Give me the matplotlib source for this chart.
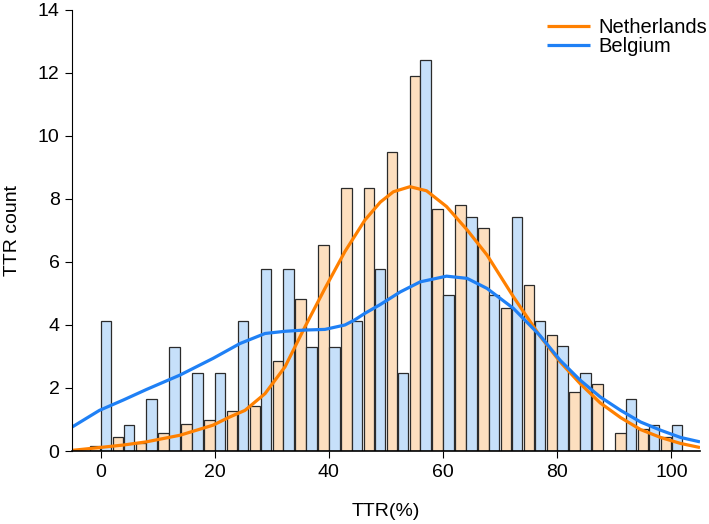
import numpy as np
import matplotlib.pyplot as plt

# bin positions (TTR %, step 4)
bin_pos = np.arange(0, 101, 4)

# bar heights
nl_counts = [0.15, 0.45, 0.25, 0.58, 0.86, 1.0, 1.28, 1.43, 2.85, 4.82, 6.53, 8.36, 8.36,
             9.5, 11.91, 7.67, 7.8, 7.09, 4.55, 5.26, 3.69, 1.86, 2.14, 0.57, 0.71, 0.45]
be_counts = [4.13, 0.84, 1.65, 3.31, 2.48, 2.48, 4.13, 5.79, 5.79, 3.31, 3.31, 4.13, 5.79,
             2.48, 12.41, 4.96, 7.44, 4.96, 7.44, 4.13, 3.32, 2.48, 0.0, 1.65, 0.83, 0.83]

# density curves (scaled to counts)
nl_x = [-5.0, -0.2, 4.0, 8.0, 13.9, 19.7, 22.5, 25.3, 28.8, 32.3, 35.8, 39.3, 42.8, 46.3,
        49.0, 51.3, 54.2, 57.1, 60.6, 64.2, 67.7, 72.3, 77.0, 80.5, 84.0, 87.5, 91.1,
        94.6, 98.1, 101.6, 105.0]
nl_y = [0.02, 0.11, 0.19, 0.29, 0.50, 0.82, 1.07, 1.29, 1.82, 2.67, 3.94, 5.16, 6.33, 7.33,
        7.9, 8.23, 8.39, 8.26, 7.76, 7.02, 6.22, 4.90, 3.64, 2.83, 2.14, 1.53, 1.06,
        0.68, 0.43, 0.24, 0.11]
be_x = [-5.0, -0.2, 4.0, 8.0, 13.9, 19.7, 24.4, 28.8, 32.3, 35.8, 39.3, 42.8, 44.5, 46.3,
        49.0, 52.5, 56.0, 60.6, 64.2, 67.7, 72.3, 77.0, 80.5, 84.0, 87.5, 91.1, 94.6,
        98.1, 101.6, 105.0]
be_y = [0.76, 1.29, 1.62, 1.95, 2.41, 2.94, 3.41, 3.73, 3.80, 3.84, 3.86, 4.0, 4.16, 4.37,
        4.65, 5.05, 5.37, 5.55, 5.48, 5.16, 4.53, 3.66, 2.88, 2.25, 1.72, 1.29, 0.92,
        0.66, 0.43, 0.29]

orange = '#FF8000'
blue = '#1F80F5'

plt.rcParams['font.family'] = ['Liberation Sans', 'DejaVu Sans']

fig = plt.figure(figsize=(7.09, 5.24), dpi=100)
ax = fig.add_axes([0.1016, 0.1393, 0.8857, 0.8417])

ax.bar(bin_pos - 0.95, nl_counts, width=1.85, color='#FDDFBF',
       edgecolor='#2b2b2b', linewidth=0.9)
ax.bar(bin_pos + 0.95, be_counts, width=1.85, color='#C6E0FA',
       edgecolor='#2b2b2b', linewidth=0.9)

ax.plot(nl_x, nl_y, color=orange, linewidth=2.3, label='Netherlands',
        solid_capstyle='butt', solid_joinstyle='round')
ax.plot(be_x, be_y, color=blue, linewidth=2.3, label='Belgium',
        solid_capstyle='butt', solid_joinstyle='round')

ax.set_xlim(-5, 105)
ax.set_ylim(0, 14)
ax.set_xticks(np.arange(0, 101, 20))
ax.set_yticks(np.arange(0, 15, 2))
ax.tick_params(labelsize=14, length=5, width=0.8, pad=4, direction='out')
ax.spines['top'].set_visible(False)
ax.spines['right'].set_visible(False)
ax.spines['left'].set_linewidth(0.8)
ax.spines['bottom'].set_linewidth(1.2)

ax.set_xlabel('TTR(%)', fontsize=14, labelpad=16)
ax.set_ylabel('TTR count', fontsize=14, labelpad=12)

ax.legend(loc='upper right', bbox_to_anchor=(1.012, 0.985),
          bbox_transform=fig.transFigure, borderaxespad=0.1, frameon=False,
          fontsize=14.5, handlelength=2.1, handletextpad=0.45, labelspacing=0.0)

fig.savefig('out.png', dpi=100)
